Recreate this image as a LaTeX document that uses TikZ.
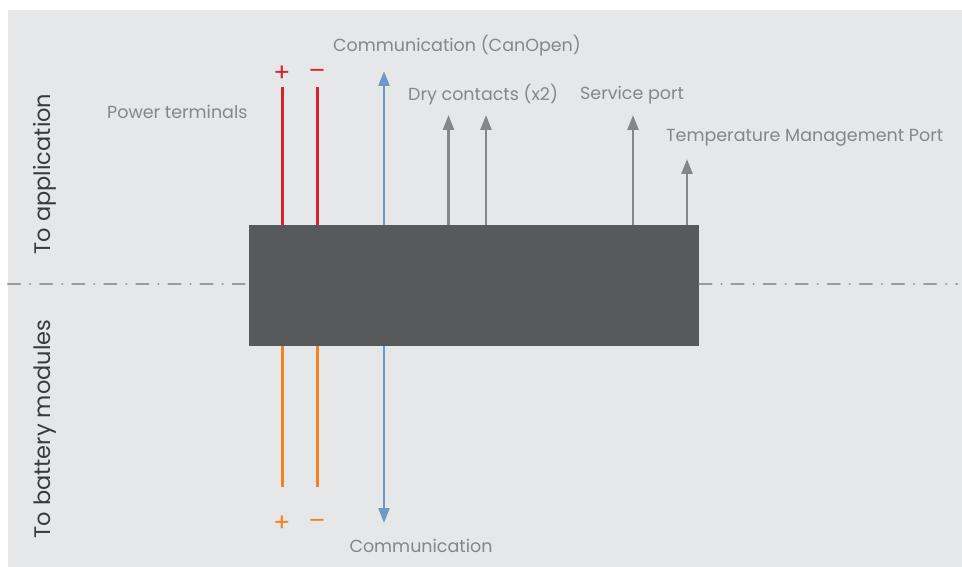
\documentclass[tikz,border=0pt]{standalone}
\usepackage{fontspec}
\setmainfont{Poppins}
\usetikzlibrary{arrows.meta}
\definecolor{bgc}{HTML}{E6E7E9}
\definecolor{boxc}{HTML}{58595B}
\definecolor{redc}{HTML}{D7232E}
\definecolor{orangec}{HTML}{F58220}
\definecolor{bluec}{HTML}{6E98CA}
\definecolor{grayc}{HTML}{858688}
\definecolor{txtc}{HTML}{858688}
\definecolor{sidec}{HTML}{3A3A3C}
\definecolor{dashc}{HTML}{9A9B9D}
\tikzset{
  x=1pt, y=-1pt,
  lbl/.style={text=txtc, font=\fontsize{17.5}{20}\selectfont, inner sep=0pt},
  side/.style={text=sidec, font=\fontsize{22.5}{26}\selectfont, inner sep=0pt, rotate=90},
  pm/.style={font=\fontsize{25}{28}\selectfont, inner sep=0pt},
  wire/.style={line width=2.6pt},
  sig/.style={line width=2.6pt, -{Triangle[width=11pt,length=15pt]}},
  axis/.style={dashc, line width=2.4pt, line cap=round, dash pattern=on 12pt off 10pt on 0.1pt off 10pt},
}
\begin{document}
\begin{tikzpicture}
\useasboundingbox (0,0) rectangle (962,567);
\fill[bgc] (8,10) rectangle (962,567);
% center axis
\coordinate (axL) at (8,284);
\coordinate (axR) at (957,284);
\node[fill=boxc, minimum width=450pt, minimum height=121pt, inner sep=0pt, anchor=north west] (box) at (249,225) {};
\draw[axis] (axL) -- (box.west |- axL);
\draw[axis] (box.east |- axR) -- (axR);
% top coordinates
\coordinate (rp) at (282.5,87);
\coordinate (rm) at (317.5,87);
\coordinate (ct) at (384,71);
\coordinate (d1) at (448.5,115);
\coordinate (d2) at (486,115);
\coordinate (sp) at (633,115);
\coordinate (tm) at (687,159);
% bottom coordinates
\coordinate (op) at (282.5,487);
\coordinate (om) at (317.5,487);
\coordinate (cb) at (384,523);
% wires
\draw[wire, redc] (box.north -| rp) -- (rp);
\draw[wire, redc] (box.north -| rm) -- (rm);
\draw[wire, orangec] (box.south -| op) -- (op);
\draw[wire, orangec] (box.south -| om) -- (om);
\draw[sig, bluec] (box.north -| ct) -- (ct);
\draw[sig, bluec] (box.south -| cb) -- (cb);
\draw[sig, grayc] (box.north -| d1) -- (d1);
\draw[sig, grayc] (box.north -| d2) -- (d2);
\draw[sig, grayc] (box.north -| sp) -- (sp);
\draw[sig, grayc] (box.north -| tm) -- (tm);
% labels
\node[pm, text=redc] (tplus) at (282,74) {+};
\node[pm, text=redc] (tminus) at (317,74) {–};
\node[pm, text=orangec] (bplus) at (282,524) {+};
\node[pm, text=orangec] (bminus) at (317,524) {–};
\node[lbl] (comtop) at (457,46) {Communication (CanOpen)};
\node[lbl, anchor=west] (power) at (107,112) {Power terminals};
\node[lbl, anchor=west] (dry) at (408,95) {Dry contacts (x2)};
\node[lbl, anchor=west] (serv) at (580,95) {Service port};
\node[lbl, anchor=west] (temp) at (666,138) {Temperature Management Port};
\node[lbl] (combot) at (421,546) {Communication};
\node[side] (toapp) at (45,174) {To application};
\node[side] (tobat) at (45,429) {To battery modules};
\end{tikzpicture}
\end{document}
